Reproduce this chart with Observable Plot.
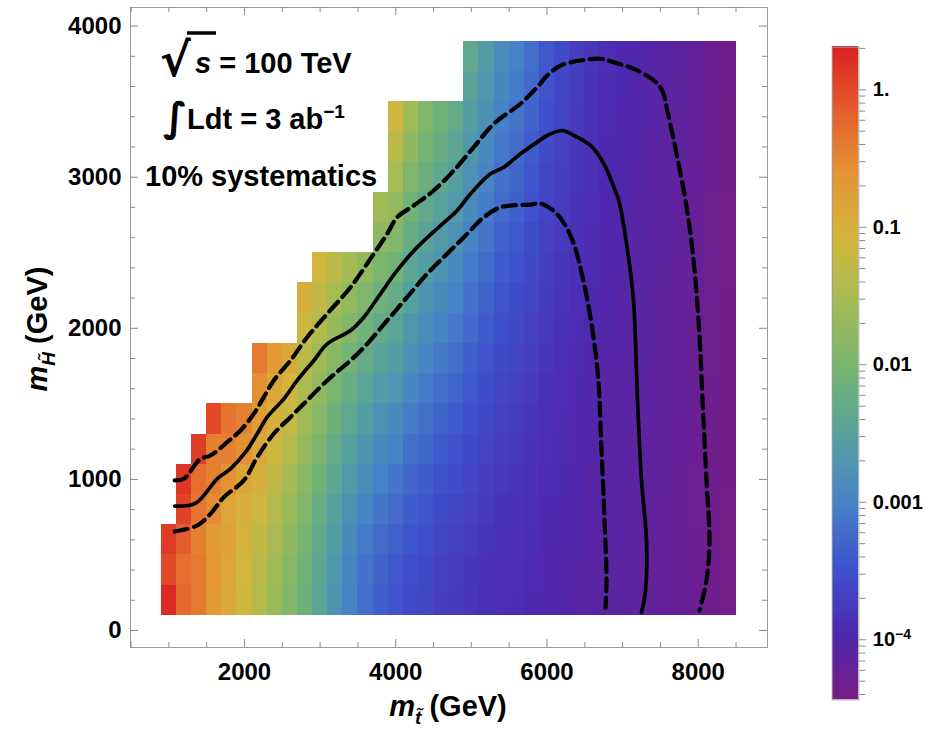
<!DOCTYPE html>
<html><head><meta charset="utf-8">
<script src="https://cdn.jsdelivr.net/npm/d3@7"></script>
<script src="https://cdn.jsdelivr.net/npm/@observablehq/plot@0.6"></script>
<style>
body{margin:0;background:#fff;}
#wrap{position:relative;width:925px;height:736px;overflow:hidden;}
#main,#bar{position:absolute;top:0;}
#main{left:0;}
#bar{left:790px;}
</style></head><body><div id="wrap"><div id="main"></div><div id="bar"></div></div>
<script>
// ---------- DATA ----------
// cell centres (GeV)
const stopMass = [1000,1200,1400,1600,1800,2000,2200,2400,2600,2800,3000,3200,3400,3600,3800,4000,4200,4400,4600,4800,5000,5200,5400,5600,5800,6000,6200,6400,6600,6800,7000,7200,7400,7600,7800,8000,8200,8400];
const higgsinoMass = [200,400,600,800,1000,1200,1400,1600,1800,2000,2200,2400,2600,2800,3000,3200,3400,3600,3800];
// log10 of the plotted quantity, one list per stop-mass column, from m_H = 200 upward
const z1000 = [0.25,0.0,0.1];
const z1200 = [-0.25,-0.3,-0.15,0.05,0.15];
const z1400 = [-0.4,-0.4,-0.45,-0.35,-0.3,0.1];
const z1600 = [-0.7,-0.65,-0.7,-0.55,-0.45,-0.45,0.0];
const z1800 = [-0.9,-0.85,-0.8,-0.85,-0.6,-0.45,-0.35];
const z2000 = [-1.15,-1.1,-1.05,-1.0,-0.85,-0.6,-0.45];
const z2200 = [-1.4,-1.35,-1.26,-1.15,-1.02,-0.88,-0.73,-0.57,-0.4];
const z2400 = [-1.65,-1.6,-1.51,-1.41,-1.29,-1.16,-1.02,-0.86,-0.7];
const z2600 = [-1.9,-1.85,-1.76,-1.65,-1.52,-1.38,-1.23,-1.07,-0.9];
const z2800 = [-2.15,-2.1,-2.03,-1.94,-1.83,-1.71,-1.59,-1.45,-1.31,-1.16,-1.0];
const z3000 = [-2.45,-2.4,-2.33,-2.23,-2.12,-2.0,-1.87,-1.73,-1.59,-1.43,-1.27,-1.1];
const z3200 = [-2.75,-2.7,-2.62,-2.52,-2.41,-2.29,-2.15,-2.01,-1.85,-1.69,-1.53,-1.35];
const z3400 = [-3.0,-2.95,-2.87,-2.77,-2.65,-2.52,-2.38,-2.23,-2.07,-1.91,-1.73,-1.55];
const z3600 = [-3.2,-3.15,-3.07,-2.97,-2.85,-2.72,-2.58,-2.43,-2.27,-2.11,-1.93,-1.75];
const z3800 = [-3.35,-3.3,-3.22,-3.13,-3.01,-2.89,-2.76,-2.62,-2.46,-2.3,-2.14,-1.97,-1.79,-1.6];
const z4000 = [-3.45,-3.4,-3.33,-3.23,-3.12,-3.0,-2.87,-2.73,-2.58,-2.42,-2.26,-2.09,-1.91,-1.73,-1.54,-1.35,-1.15];
const z4200 = [-3.55,-3.51,-3.44,-3.36,-3.27,-3.17,-3.06,-2.94,-2.81,-2.68,-2.54,-2.4,-2.25,-2.09,-1.93,-1.77,-1.6];
const z4400 = [-3.6,-3.56,-3.51,-3.44,-3.36,-3.27,-3.17,-3.07,-2.96,-2.84,-2.72,-2.59,-2.46,-2.33,-2.19,-2.05,-1.9];
const z4600 = [-3.7,-3.67,-3.61,-3.55,-3.47,-3.39,-3.3,-3.2,-3.09,-2.98,-2.87,-2.75,-2.63,-2.5,-2.37,-2.24,-2.1];
const z4800 = [-3.75,-3.72,-3.67,-3.61,-3.54,-3.47,-3.38,-3.29,-3.2,-3.1,-3.0,-2.89,-2.78,-2.67,-2.55,-2.42,-2.3];
const z5000 = [-3.8,-3.78,-3.73,-3.68,-3.62,-3.56,-3.49,-3.41,-3.34,-3.25,-3.16,-3.07,-2.98,-2.88,-2.78,-2.68,-2.57,-2.46,-2.35];
const z5200 = [-3.85,-3.83,-3.79,-3.75,-3.7,-3.64,-3.58,-3.52,-3.45,-3.38,-3.3,-3.22,-3.14,-3.06,-2.97,-2.88,-2.79,-2.7,-2.6];
const z5400 = [-3.9,-3.88,-3.85,-3.82,-3.77,-3.73,-3.67,-3.62,-3.56,-3.5,-3.44,-3.37,-3.31,-3.23,-3.16,-3.09,-3.01,-2.93,-2.85];
const z5600 = [-3.92,-3.9,-3.88,-3.85,-3.81,-3.77,-3.72,-3.68,-3.63,-3.57,-3.52,-3.46,-3.4,-3.34,-3.27,-3.21,-3.14,-3.07,-3.0];
const z5800 = [-3.95,-3.94,-3.92,-3.89,-3.86,-3.83,-3.79,-3.75,-3.71,-3.67,-3.62,-3.57,-3.53,-3.47,-3.42,-3.37,-3.31,-3.26,-3.2];
const z6000 = [-4.0,-3.99,-3.97,-3.95,-3.93,-3.9,-3.87,-3.84,-3.81,-3.77,-3.74,-3.7,-3.66,-3.62,-3.58,-3.54,-3.49,-3.45,-3.4];
const z6200 = [-4.02,-4.01,-4.0,-3.98,-3.96,-3.94,-3.92,-3.9,-3.87,-3.84,-3.81,-3.78,-3.75,-3.72,-3.69,-3.66,-3.62,-3.59,-3.55];
const z6400 = [-4.05,-4.04,-4.03,-4.02,-4.01,-3.99,-3.98,-3.96,-3.94,-3.92,-3.9,-3.87,-3.85,-3.83,-3.8,-3.78,-3.75,-3.73,-3.7];
const z6600 = [-4.08,-4.08,-4.07,-4.06,-4.05,-4.03,-4.02,-4.01,-3.99,-3.97,-3.96,-3.94,-3.92,-3.9,-3.88,-3.86,-3.84,-3.82,-3.8];
const z6800 = [-4.1,-4.1,-4.09,-4.08,-4.08,-4.07,-4.06,-4.05,-4.04,-4.02,-4.01,-4.0,-3.99,-3.97,-3.96,-3.95,-3.93,-3.92,-3.9];
const z7000 = [-4.12,-4.12,-4.11,-4.11,-4.1,-4.09,-4.08,-4.07,-4.07,-4.06,-4.05,-4.03,-4.02,-4.01,-4.0,-3.99,-3.98,-3.96,-3.95];
const z7200 = [-4.15,-4.15,-4.14,-4.14,-4.13,-4.12,-4.12,-4.11,-4.1,-4.09,-4.08,-4.07,-4.06,-4.05,-4.04,-4.03,-4.02,-4.01,-4.0];
const z7400 = [-4.18,-4.18,-4.17,-4.17,-4.16,-4.16,-4.15,-4.15,-4.14,-4.13,-4.12,-4.11,-4.11,-4.1,-4.09,-4.08,-4.07,-4.06,-4.05];
const z7600 = [-4.22,-4.22,-4.21,-4.21,-4.21,-4.2,-4.19,-4.19,-4.18,-4.17,-4.17,-4.16,-4.15,-4.14,-4.14,-4.13,-4.12,-4.11,-4.1];
const z7800 = [-4.25,-4.25,-4.25,-4.24,-4.24,-4.23,-4.23,-4.22,-4.22,-4.21,-4.21,-4.2,-4.19,-4.19,-4.18,-4.17,-4.17,-4.16,-4.15];
const z8000 = [-4.3,-4.3,-4.3,-4.29,-4.29,-4.28,-4.28,-4.27,-4.27,-4.26,-4.26,-4.25,-4.24,-4.24,-4.23,-4.22,-4.22,-4.21,-4.2];
const z8200 = [-4.35,-4.35,-4.35,-4.35,-4.34,-4.34,-4.34,-4.34,-4.33,-4.33,-4.33,-4.32,-4.32,-4.32,-4.31,-4.31,-4.31,-4.3,-4.3];
const z8400 = [-4.4,-4.4,-4.4,-4.4,-4.39,-4.39,-4.39,-4.39,-4.38,-4.38,-4.38,-4.37,-4.37,-4.37,-4.36,-4.36,-4.36,-4.35,-4.35];
const columns = [z1000,z1200,z1400,z1600,z1800,z2000,z2200,z2400,z2600,z2800,z3000,z3200,z3400,z3600,z3800,z4000,z4200,z4400,z4600,z4800,z5000,z5200,z5400,z5600,z5800,z6000,z6200,z6400,z6600,z6800,z7000,z7200,z7400,z7600,z7800,z8000,z8200,z8400];

// contour lines [m_stop, m_higgsino]
const solidContour = [[1078,823],[1355,843],[1639,1004],[1815,1070],[2013,1180],[2168,1302],[2300,1412],[2520,1533],[2697,1655],[2917,1787],[3094,1897],[3402,1985],[3578,2073],[3798,2228],[4019,2383],[4284,2537],[4592,2680],[4813,2780],[4989,2890],[5253,3022],[5429,3066],[5650,3155],[5871,3232],[6003,3276],[6201,3309],[6355,3276],[6576,3210],[6752,3089],[6884,2934],[6950,2846],[7065,2515],[7144,2184],[7197,1522],[7250,993],[7316,596],[7303,265],[7250,119]];
const upperDashed = [[1078,993],[1197,1004],[1418,1136],[1550,1158],[1771,1246],[1947,1324],[2123,1434],[2255,1544],[2387,1655],[2608,1787],[2829,1941],[3094,2096],[3402,2272],[3710,2493],[3887,2625],[4019,2735],[4239,2813],[4503,2912],[4768,3044],[5032,3199],[5297,3353],[5650,3486],[5871,3596],[6003,3673],[6179,3739],[6443,3772],[6708,3784],[6884,3761],[7148,3717],[7413,3640],[7524,3574],[7590,3441],[7677,3243],[7766,3022],[7832,2846],[7924,2515],[8004,2052],[8057,1522],[8109,993],[8149,596],[8109,331],[8017,132]];
const lowerDashed = [[1078,655],[1374,695],[1550,772],[1726,882],[1991,993],[2168,1147],[2387,1302],[2608,1412],[2784,1500],[3094,1655],[3402,1787],[3623,1897],[3887,2052],[4151,2206],[4416,2361],[4680,2493],[4945,2625],[5165,2735],[5385,2801],[5600,2815],[5782,2819],[5914,2826],[6113,2766],[6311,2614],[6509,2250],[6668,1721],[6721,1191],[6761,728],[6787,331],[6774,152]];

// ticks
const xMajor = [2000,4000,6000,8000];
const xMinor = [500,1000,1500,2500,3000,3500,4500,5000,5500,6500,7000,7500,8500];
const yMajor = [0,1000,2000,3000,4000];
const yMinor = [200,400,600,800,1200,1400,1600,1800,2200,2400,2600,2800,3200,3400,3600,3800];
const barMajor = [1,0.1,0.01,0.001,0.0001];
const barLabels = ["1.","0.1","0.01","0.001","10"];
const barMinor = [2,0.9,0.8,0.7,0.6,0.5,0.4,0.3,0.2,0.09,0.08,0.07,0.06,0.05,0.04,0.03,0.02,0.009,0.008,0.007,0.006,0.005,0.004,0.003,0.002,0.0009,0.0008,0.0007,0.0006,0.0005,0.0004,0.0003,0.0002,0.00009,0.00008,0.00007,0.00006,0.00005,0.00004];
const colorDomain = [3.66e-5, 2.04];
const rainbowStops = ["#781c86","#4e28af","#3e50cd","#4682c8","#55a0a0","#73b473","#a0bb55","#d2b73e","#e49634","#e45f2d","#db2122"];

// ---------- BUILD ----------
const FONT = "'Liberation Sans', Arial, Helvetica, sans-serif";
const rainbow = d3.piecewise(d3.interpolateRgb, rainbowStops);
const cells = [];
stopMass.forEach((mx, i) => columns[i].forEach((lz, j) => cells.push({mx, mh: higgsinoMass[j], value: Math.pow(10, lz)})));
const half = 100;

const W = 790, H = 736, mL = 130, mR = 23, mT = 7, mB = 89;
const fw = W - mL - mR, fh = H - mT - mB;
const tickStyle = {stroke: "#8a8a8a", strokeWidth: 1};
const dashStyle = {stroke: "black", strokeWidth: 4.2, strokeDasharray: "13,6.5", curve: "catmull-rom"};

const main = Plot.plot({
  width: W, height: H,
  marginLeft: mL, marginRight: mR, marginTop: mT, marginBottom: mB,
  style: {fontFamily: FONT, fontSize: "24px", background: "white", overflow: "visible"},
  x: {domain: [492.5, 8916]},
  y: {domain: [-112.5, 4123]},
  color: {type: "log", domain: colorDomain, interpolate: rainbow, clamp: true},
  marks: [
    Plot.rect(cells, {x1: d => d.mx - half, x2: d => d.mx + half, y1: d => d.mh - half, y2: d => d.mh + half, fill: "value", shapeRendering: "crispEdges"}),
    Plot.line(upperDashed, {x: d => d[0], y: d => d[1], ...dashStyle}),
    Plot.line(lowerDashed, {x: d => d[0], y: d => d[1], ...dashStyle}),
    Plot.line(solidContour, {x: d => d[0], y: d => d[1], stroke: "black", strokeWidth: 3.7, curve: "catmull-rom"}),
    Plot.frame({stroke: "#9a9a9a", strokeWidth: 1}),
    // inward frame ticks on all four sides
    Plot.tickX(xMajor, {x: d => d, insetTop: fh - 8, ...tickStyle}),
    Plot.tickX(xMinor, {x: d => d, insetTop: fh - 5, ...tickStyle}),
    Plot.tickX(xMajor, {x: d => d, insetBottom: fh - 8, ...tickStyle}),
    Plot.tickX(xMinor, {x: d => d, insetBottom: fh - 5, ...tickStyle}),
    Plot.tickY(yMajor, {y: d => d, insetRight: fw - 8, ...tickStyle}),
    Plot.tickY(yMinor, {y: d => d, insetRight: fw - 5, ...tickStyle}),
    Plot.tickY(yMajor, {y: d => d, insetLeft: fw - 8, ...tickStyle}),
    Plot.tickY(yMinor, {y: d => d, insetLeft: fw - 5, ...tickStyle}),
    Plot.axisX({anchor: "bottom", ticks: xMajor, tickSize: 0, tickPadding: 15, tickFormat: d => String(d), fontSize: 24, fontWeight: "bold", fill: "black", label: null}),
    Plot.axisY({anchor: "left", ticks: yMajor, tickSize: 0, tickPadding: 9, tickFormat: d => String(d), fontSize: 24, fontWeight: "bold", fill: "black", label: null})
  ]
});
document.getElementById("main").appendChild(main);

// annotations and axis titles
const s = d3.select(main);
const ann = s.append("g").attr("font-family", FONT).attr("font-weight", "bold").attr("fill", "black").attr("text-anchor", "start");
// sqrt(s) = 100 TeV
ann.append("text").attr("x", 160).attr("y", 76).attr("font-family", "'DejaVu Sans'").attr("font-size", 46).attr("font-weight", "bold").text("√");
ann.append("line").attr("x1", 187).attr("x2", 216).attr("y1", 33).attr("y2", 33).attr("stroke", "black").attr("stroke-width", 3.5);
const t1 = ann.append("text").attr("x", 195).attr("y", 73).attr("font-size", 29);
t1.append("tspan").attr("font-style", "italic").text("s");
t1.append("tspan").text(" = 100 TeV");
// integral L dt
ann.append("text").attr("x", 163).attr("y", 131).attr("font-family", "'DejaVu Sans'").attr("font-size", 40).attr("font-weight", "bold").text("∫");
const t2 = ann.append("text").attr("x", 187).attr("y", 129).attr("font-size", 29);
t2.append("tspan").text("Ldt = 3 ab");
t2.append("tspan").attr("font-size", 19).attr("dy", -11).text("−1");
// systematics
ann.append("text").attr("x", 145).attr("y", 186).attr("font-size", 29).text("10% systematics");
// x title
const xt = ann.append("text").attr("x", 448).attr("y", 716).attr("text-anchor", "middle").attr("font-size", 29);
xt.append("tspan").attr("font-style", "italic").text("m");
xt.append("tspan").attr("font-style", "italic").attr("font-size", 19).attr("dy", 8).text("t\u0303");
xt.append("tspan").attr("dy", -8).text(" (GeV)");
// y title
const yt = ann.append("text").attr("transform", "translate(47,329) rotate(-90)").attr("text-anchor", "middle").attr("font-size", 29);
yt.append("tspan").attr("font-style", "italic").text("m");
yt.append("tspan").attr("font-style", "italic").attr("font-size", 19).attr("dy", 8).text("H\u0303");
yt.append("tspan").attr("dy", -8).text(" (GeV)");

// ---------- COLOR BAR ----------
const lo = Math.log10(colorDomain[0]), hi = Math.log10(colorDomain[1]);
const nStripes = 400;
const stripes = d3.range(nStripes).map(i => ({a: lo + (hi - lo) * i / nStripes, b: lo + (hi - lo) * (i + 1) / nStripes}));
const bar = Plot.plot({
  width: 135, height: 736,
  marginLeft: 41.7, marginRight: 66.7, marginTop: 46.7, marginBottom: 36.7,
  style: {fontFamily: FONT, fontSize: "20px", background: "white", overflow: "visible"},
  x: {domain: [0, 1], axis: null},
  y: {domain: [lo, hi], axis: null},
  color: {type: "log", domain: colorDomain, interpolate: rainbow, clamp: true},
  marks: [
    Plot.rect(stripes, {x1: 0, x2: 1, y1: "a", y2: d => d.b + (hi - lo) / nStripes * 0.5, fill: d => Math.pow(10, (d.a + d.b) / 2), shapeRendering: "crispEdges"}),
    Plot.frame({stroke: "#9a9a9a"}),
    Plot.axisY({anchor: "right", ticks: barMinor.map(Math.log10), tickSize: 6, tickFormat: () => "", stroke: "#8a8a8a", label: null}),
    Plot.axisY({anchor: "right", ticks: barMajor.map(Math.log10), tickSize: 7, tickPadding: 7, tickFormat: (d, i) => barLabels[i], fontSize: 20, fontWeight: "bold", fill: "black", stroke: "#8a8a8a", label: null})
  ]
});
document.getElementById("bar").appendChild(bar);
d3.select(bar).selectAll("text").each(function() {
  if (this.textContent === "10") {
    d3.select(this).append("tspan").attr("font-size", 14).attr("dy", "-0.5em").text("−4");
  }
});
</script></body></html>
